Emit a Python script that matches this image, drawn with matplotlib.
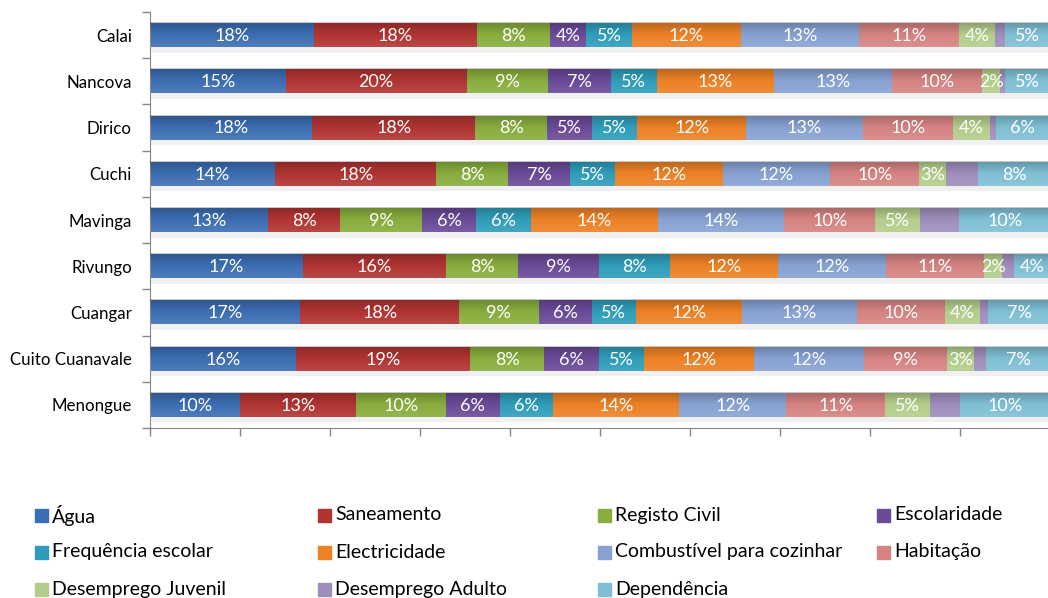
import numpy as np
import matplotlib.pyplot as plt
from matplotlib.patches import Rectangle

plt.rcParams['font.family'] = ['Lato', 'DejaVu Sans']

# municipalities, top to bottom
municipios = ["Calai", "Nancova", "Dirico", "Cuchi", "Mavinga", "Rivungo",
              "Cuangar", "Cuito Cuanavale", "Menongue"]

series = ["Água", "Saneamento", "Registo Civil", "Escolaridade",
          "Frequência escolar", "Electricidade", "Combustível para cozinhar",
          "Habitação", "Desemprego Juvenil", "Desemprego Adulto", "Dependência"]

# contribution (%) of each indicator, one list per indicator, in municipio order
agua         = [18, 15, 18, 14, 13, 17, 17, 16, 10]
saneamento   = [18, 20, 18, 18, 8, 16, 18, 19, 13]
registo      = [8, 9, 8, 8, 9, 8, 9, 8, 10]
escolaridade = [4, 7, 5, 7, 6, 9, 6, 6, 6]
frequencia   = [5, 5, 5, 5, 6, 8, 5, 5, 6]
electricid   = [12, 13, 12, 12, 14, 12, 12, 12, 14]
combustivel  = [13, 13, 13, 12, 14, 12, 13, 12, 12]
habitacao    = [11, 10, 10, 10, 10, 11, 10, 9, 11]
desemp_juv   = [4, 2, 4, 3, 5, 2, 4, 3, 5]
desemp_adul  = [1, 0.5, 0.7, 3.6, 4.3, 1.3, 0.9, 1.3, 3.4]
dependencia  = [5, 5, 6, 8, 10, 4, 7, 7, 10]

# desemprego adulto is drawn but not labelled
show_label = [True] * 9 + [False, True]

colors = ["#3C6DB2", "#B03432", "#88AD3D", "#6A4A98", "#2F9DBA", "#EC8125",
          "#87A2D2", "#D58382", "#B3CD8B", "#9F8EBC", "#7FBFD5"]

data = np.array([agua, saneamento, registo, escolaridade, frequencia,
                 electricid, combustivel, habitacao, desemp_juv,
                 desemp_adul, dependencia], dtype=float)
share = data / data.sum(axis=0)

W, H = 1048, 598
fig = plt.figure(figsize=(W / 100, H / 100), dpi=100)
ax = fig.add_axes([150 / W, 1 - 428 / H, 900 / W, 416 / H])

n = len(municipios)
ypos = np.arange(n)
bar_h = 0.52

# soft shadow under each bar
for y in ypos:
    ax.barh(y + 0.12, 1.0, height=bar_h, color="#B0B0B0", alpha=0.18,
            zorder=1, edgecolor="none")

left = np.zeros(n)
for k, name in enumerate(series):
    ax.barh(ypos, share[k], left=left, height=bar_h, color=colors[k],
            edgecolor="none", zorder=2, label=name)
    if show_label[k]:
        for i in range(n):
            ax.text(left[i] + share[k][i] / 2, ypos[i] + 0.02,
                    f"{data[k][i]:.0f}%", ha="center", va="center",
                    color="white", fontsize=13, zorder=4)
    left += share[k]

# light-top / dark-bottom shading across each bar
grad = np.zeros((32, 2, 4))
t = np.linspace(0, 1, 32)
grad[:, :, 3] = np.where(t < 0.5, 0.10 * (1 - 2 * t), 0.22 * (2 * t - 1))[:, None]
grad[t < 0.5, :, :3] = 1.0
for y in ypos:
    ax.imshow(grad, extent=(0, 1, y - bar_h / 2, y + bar_h / 2),
              aspect="auto", zorder=3, interpolation="bilinear")

ax.set_xlim(0, 1)
ax.set_ylim(n - 0.5, -0.5)

ax.set_xticks(np.arange(0, 1.01, 0.1))
ax.set_xticklabels([])
ax.tick_params(axis="x", length=6, color="#868686", width=1)

ax.set_yticks(ypos)
ax.set_yticklabels(municipios, fontsize=12.2)
ax.set_yticks(np.arange(-0.5, n, 1), minor=True)
ax.tick_params(axis="y", which="major", length=0, pad=13)
ax.tick_params(axis="y", which="minor", length=6, color="#868686", width=1)

for side in ["top", "right"]:
    ax.spines[side].set_visible(False)
for side in ["left", "bottom"]:
    ax.spines[side].set_color("#868686")

# legend laid out row by row, four columns
col_x = [35, 318, 598, 877]
row_y = [516, 553, 590]
for k, name in enumerate(series):
    r, c = divmod(k, 4)
    x0, y0 = col_x[c], row_y[r]
    fig.patches.append(Rectangle((x0 / W, 1 - (y0 + 6) / H), 13 / W, 13 / H,
                                 transform=fig.transFigure, color=colors[k]))
    fig.text((x0 + 17) / W, 1 - (y0 - 1) / H, name, fontsize=14, va="center",
             ha="left")

fig.savefig("out.png", dpi=100)
